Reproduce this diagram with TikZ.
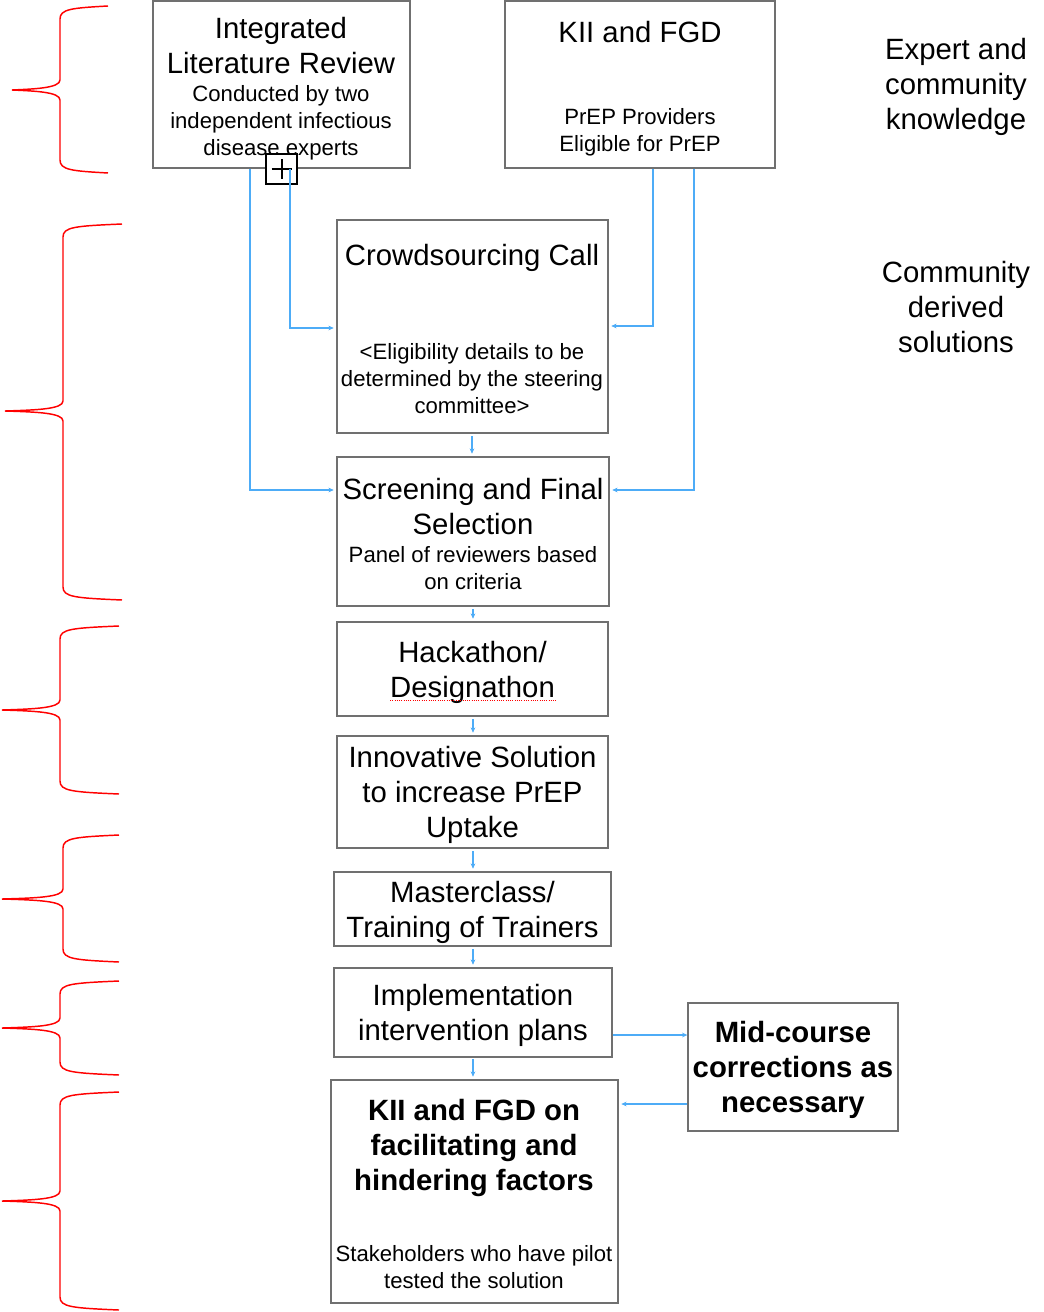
\documentclass[tikz,border=0pt]{standalone}
\usepackage{fontspec}
\setmainfont{Liberation Sans}
\usetikzlibrary{arrows.meta,fit}
\definecolor{flowblue}{RGB}{77,172,247}
\definecolor{boxgray}{RGB}{112,112,112}
\newcommand{\lift}{\rule{0pt}{20.5pt}}
\begin{document}
\begin{tikzpicture}[x=0.75pt,y=-0.75pt,
  box/.style={draw=boxgray,line width=0.9pt,inner sep=0pt},
  head/.style={align=center,font=\fontsize{22}{26.25}\selectfont},
  sub/.style={align=center,font=\fontsize{16.6}{20.25}\selectfont},
  headbox/.style={box,head},
  flow/.style={draw=flowblue,line width=0.8pt,-{Stealth[length=4pt,width=3.5pt]},shorten >=2pt},
  bracered/.style={red,line width=1.1pt}]
\useasboundingbox (0,0) rectangle (1043,1312);

% Red braces on the left
\foreach \yt/\ym/\yb/\xv/\xr/\xc in {6/90/173/60/108/12, 224/411/600/63/122/5, 626/710/794/60/119/2, 835/899/962/63/119/2, 981/1028/1075/60/119/2, 1092/1201/1310/60/119/2}
  \draw[bracered] (\xr,\yt) .. controls (\xv+12,\yt+2) and (\xv,\yt+3) .. (\xv,\yt+13) -- (\xv,\ym-10)
    .. controls (\xv,\ym-2) and (\xv-25,\ym-1) .. (\xc,\ym)
    .. controls (\xv-25,\ym+1) and (\xv,\ym+2) .. (\xv,\ym+10) -- (\xv,\yb-13)
    .. controls (\xv,\yb-3) and (\xv+12,\yb-2) .. (\xr,\yb);

% Top row
\node[box,fit={(153,1) (410,168)}] (ilr) {};
\node[head] (ilrT) at (281,46) {Integrated\\Literature Review};
\node[sub] (ilrS) at (281,123) {Conducted by two\\independent infectious\\disease experts};
\node[box,fit={(505,1) (775,168)}] (kii) {};
\node[head] (kiiT) at (640,32) {KII and FGD};
\node[sub] (kiiS) at (640,132.5) {PrEP Providers\\Eligible for PrEP};
\node[draw=black,line width=1.8pt,fill=white,inner sep=0pt,fit={(266,154) (297,184)}] (plus) {};
\draw[line width=1.5pt] ([xshift=-7.5pt]plus.center) -- ([xshift=7.5pt]plus.center);
\draw[line width=1.5pt] ([yshift=-7.5pt]plus.center) -- ([yshift=7.5pt]plus.center);

% Right side labels
\node[head] (expert) at (956,87) {Expert and\\community\\knowledge};
\node[head] (derived) at (956,307) {Community\\derived\\solutions};

% Crowdsourcing and screening
\node[box,fit={(337,220) (608,433)}] (crowd) {};
\node[head] (crowdT) at (472,258) {Crowdsourcing Call};
\node[sub] (crowdS) at (472,379) {<Eligibility details to be\\determined by the steering\\committee>};
\node[box,fit={(337,457) (609,606)}] (screen) {};
\node[head] (screenT) at (473,507) {Screening and Final\\Selection};
\node[sub] (screenS) at (473,568.5) {Panel of reviewers based\\on criteria};

% Middle column
\node[headbox,minimum width=203.25pt,minimum height=70.5pt] (hack) at (472.5,669) {\lift Hackathon/\\Designathon};
\draw[red,densely dotted,line width=0.7pt] (390,700) -- (556,700);
\node[headbox,minimum width=203.25pt,minimum height=84pt] (innov) at (472.5,792) {\lift Innovative Solution\\to increase PrEP\\Uptake};
\node[headbox,minimum width=207.75pt,minimum height=55.5pt] (master) at (472.5,909) {\lift Masterclass/\\Training of Trainers};
\node[headbox,minimum width=208.5pt,minimum height=66.75pt] (impl) at (473,1012.5) {\lift Implementation\\intervention plans};
\node[box,fit={(331,1080) (618,1303)}] (kiib) {};
\node[head,font=\fontsize{22}{26.25}\selectfont\bfseries] (kiibT) at (474,1148) {KII and FGD on\\facilitating and\\hindering factors};
\node[sub] (kiibS) at (474,1267) {Stakeholders who have pilot\\tested the solution};
\node[headbox,font=\fontsize{22}{26.25}\selectfont\bfseries,minimum width=157.5pt,minimum height=96pt] (mid) at (793,1067) {\lift Mid-course\\corrections as\\necessary};

% Connectors
\draw[flow] (ilr.south -| 250,0) |- (screen.west |- 0,490);
\draw[flow] (ilr.south -| 290,0) |- (crowd.west |- 0,328);
\draw[flow] (kii.south -| 653,0) |- (crowd.east |- 0,326);
\draw[flow] (kii.south -| 694,0) |- (screen.east |- 0,490);
\draw[flow,shorten <=2pt] (crowd.south -| 472,0) -- (screen.north -| 472,0);
\draw[flow,shorten <=2pt] (screen.south -| 473,0) -- (hack.north -| 473,0);
\draw[flow,shorten <=2pt] (hack.south -| 473,0) -- (innov.north -| 473,0);
\draw[flow,shorten <=2pt] (innov.south -| 473,0) -- (master.north -| 473,0);
\draw[flow,shorten <=2pt] (master.south -| 473,0) -- (impl.north -| 473,0);
\draw[flow,shorten <=1pt] (impl.south -| 473,0) -- (kiib.north -| 473,0);
\draw[flow,shorten >=0pt] (impl.east |- 0,1035) -- (mid.west |- 0,1035);
\draw[flow] (mid.west |- 0,1104) -- (kiib.east |- 0,1104);
\end{tikzpicture}
\end{document}
